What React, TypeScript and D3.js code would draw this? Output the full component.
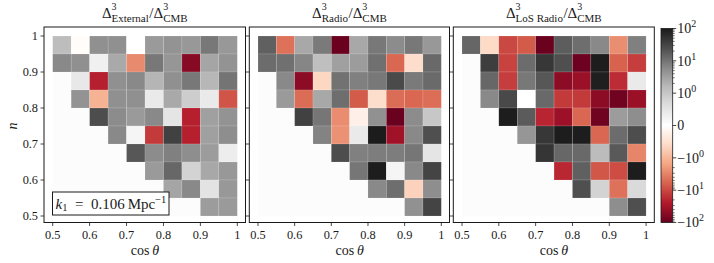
import React, { useEffect, useRef } from "react";
import * as d3 from "d3";

// rows run from the top (n = 0.95-1) down to n = 0.5-0.55,
// columns from cos(theta) = 0.5-0.55 up to 0.95-1; null = empty cell
const external: (number | null)[][] = [
  [1.4, -0.05, 5, 5, 0, 3.8, 4.5, 4, 9, 4],
  [6, 5, 0.3, 2.5, -2.7, 9, 4.2, -55, 2.8, 4.5],
  [null, 0.45, -22, 5, 6, 1.8, 5, 9, 1.7, 10],
  [null, 4.5, -1.1, 5, 5, 0.4, 2.5, 0.9, 0.4, -8],
  [null, null, 25, 5.5, 3.8, 6, 0.5, -22, 3.2, 4.5],
  [null, null, null, 6, 0.2, -13, 35, -22, 3.2, 5.2],
  [null, null, null, null, 20, 5.5, 7.5, 5.2, 3.6, 0.35],
  [null, null, null, null, null, 3.8, 13.5, 0.8, 2.6, 4],
  [null, null, null, null, null, null, 2.8, 6, 0.55, 4],
  [null, null, null, null, null, null, null, null, 3.6, 3.8],
];

const radio: (number | null)[][] = [
  [16, -4.5, 2.6, 8.5, -95, 2.6, 9, 5.5, 9, 4],
  [12, 11, 6.5, 1.3, 3.2, 3.6, 11, -5.5, -0.55, 13],
  [null, 6, -50, -0.65, 10.5, 7.5, 9, 27, 8.5, 12.5],
  [null, 3.8, -5, 2.6, 11.5, -7, -0.55, -5, -5.5, -4.8],
  [null, null, 35, 9.5, -2.6, -0.25, 4.8, -95, 5.5, 1],
  [null, null, null, 7, -2.3, 0.4, 95, -35, 6, 24],
  [null, null, null, null, 25, 7.5, 8, 8, 9.5, 0.5],
  [null, null, null, null, null, 9.5, 92, 0.2, 6, 32],
  [null, null, null, null, null, null, 6, 11.5, -0.7, 5.2],
  [null, null, null, null, null, null, null, null, 4.8, 32],
];

const losRadio: (number | null)[][] = [
  [14, -0.6, -10, -7, -95, 17, 11.5, 6, -2.5, 7.5],
  [null, 38, -11, 12, 45, 24, -90, 92, -6, -12],
  [null, 13.5, -12, 9, 20, -50, -40, 88, -17, 0.4],
  [null, 6, 28, 0, 13, -13, -13, -50, -85, -40],
  [null, null, 92, 18, -20, -38, -5.5, -85, 3.6, 5.2],
  [null, null, null, 4.2, 45, 92, 92, -5.5, 12, 25],
  [null, null, null, null, 48, 13.5, 13, 1.5, 19, -3],
  [null, null, null, null, null, -19, 16, -7.5, -9, 92],
  [null, null, null, null, null, null, 24, 0.8, -4.5, 0.7],
  [null, null, null, null, null, null, null, null, 5.2, 24],
];

const panelSubs = ["External", "Radio", "LoS Radio"];
const panelData = [external, radio, losRadio];

const binWidth = 0.05;
const xTicks = [0.5, 0.6, 0.7, 0.8, 0.9, 1];
const yTicks = [0.5, 0.6, 0.7, 0.8, 0.9, 1];
const cbarTicks = [100, 10, 1, 0, -1, -10, -100];
const cbarLabels = [
  ["10", "2"],
  ["10", "1"],
  ["10", "0"],
  ["0", ""],
  ["\u221210", "0"],
  ["\u221210", "1"],
  ["\u221210", "2"],
];

// matplotlib RdGy
const rdgy = [
  "#67001f", "#b2182b", "#d6604d", "#f4a582", "#fddbc7", "#ffffff",
  "#e0e0e0", "#bababa", "#878787", "#4d4d4d", "#1a1a1a",
];

const FONT = "'Liberation Serif', 'DejaVu Serif', serif";

// symlog with linthresh = 1, linscale = 1
function symlog(v: number): number {
  const a = Math.abs(v);
  const s = a <= 1 ? a : 1 + Math.log10(a);
  return Math.sign(v) * s;
}

const App: React.FC = () => {
  const svgRef = useRef<SVGSVGElement | null>(null);

  useEffect(() => {
    const svg = d3.select(svgRef.current);
    svg.selectAll("*").remove();

    const color = d3
      .scaleLinear<string>()
      .domain(d3.range(11).map((i) => -3 + i * 0.6))
      .range(rdgy)
      .interpolate(d3.interpolateRgb)
      .clamp(true);

    const top = 27;
    const bottom = 222.5;
    const panels = [
      { left: 44, right: 245.5 },
      { left: 249.3, right: 449.5 },
      { left: 453.3, right: 654.3 },
    ];

    const yScale = d3.scaleLinear().domain([0.5, 1]).range([216, 36]);

    panels.forEach((p, pi) => {
      const xScale = d3
        .scaleLinear()
        .domain([0.5, 1])
        .range([p.left + 8.7, p.right - 8.2]);
      const g = svg.append("g");

      // empty area of the grid
      g.append("rect")
        .attr("x", xScale(0.5))
        .attr("y", yScale(1))
        .attr("width", xScale(1) - xScale(0.5))
        .attr("height", yScale(0.5) - yScale(1))
        .attr("fill", "#fcfcfc");

      const cells: { r: number; c: number; v: number }[] = [];
      panelData[pi].forEach((row, r) =>
        row.forEach((v, c) => {
          if (v !== null) cells.push({ r, c, v });
        })
      );

      g.selectAll(".cell")
        .data(cells)
        .enter()
        .append("rect")
        .attr("class", "cell")
        .attr("x", (d) => xScale(0.5 + d.c * binWidth))
        .attr("y", (d) => yScale(1 - d.r * binWidth))
        .attr("width", xScale(0.5 + binWidth) - xScale(0.5))
        .attr("height", yScale(1 - binWidth) - yScale(1))
        .attr("fill", (d) => color(symlog(d.v)))
        .attr("stroke", "#ffffff")
        .attr("stroke-opacity", 0.25)
        .attr("stroke-width", 0.5);

      // frame
      g.append("rect")
        .attr("x", p.left)
        .attr("y", top)
        .attr("width", p.right - p.left)
        .attr("height", bottom - top)
        .attr("fill", "none")
        .attr("stroke", "#1a1a1a")
        .attr("stroke-width", 1);

      // x ticks
      xTicks.forEach((t) => {
        g.append("line")
          .attr("x1", xScale(t))
          .attr("x2", xScale(t))
          .attr("y1", bottom)
          .attr("y2", bottom + 3.5)
          .attr("stroke", "#1a1a1a")
          .attr("stroke-width", 0.8);
        g.append("text")
          .attr("x", xScale(t))
          .attr("y", 238.8)
          .attr("text-anchor", "middle")
          .attr("font-family", FONT)
          .attr("font-size", 12.3)
          .attr("fill", "#1a1a1a")
          .text(t === 1 ? "1" : d3.format(".1f")(t));
      });

      // y ticks
      yTicks.forEach((t) => {
        g.append("line")
          .attr("x1", p.left)
          .attr("x2", p.left - 3.5)
          .attr("y1", yScale(t))
          .attr("y2", yScale(t))
          .attr("stroke", "#1a1a1a")
          .attr("stroke-width", 0.8);
        if (pi === 0) {
          g.append("text")
            .attr("x", p.left - 6)
            .attr("y", yScale(t))
            .attr("dy", "0.35em")
            .attr("text-anchor", "end")
            .attr("font-family", FONT)
            .attr("font-size", 12.3)
            .attr("fill", "#1a1a1a")
            .text(t === 1 ? "1" : d3.format(".1f")(t));
        }
      });

      // x label
      const xl = g
        .append("text")
        .attr("x", (xScale(0.5) + xScale(1)) / 2)
        .attr("y", 255)
        .attr("text-anchor", "middle")
        .attr("font-family", FONT)
        .attr("font-size", 14)
        .attr("fill", "#1a1a1a");
      xl.append("tspan").text("cos\u2009");
      xl.append("tspan").attr("font-style", "italic").text("\u03b8");

      // title
      const tg = g.append("g");
      let cx = 0;
      const piece = (s: string, size: number, dy: number, italic = false) => {
        const el = tg
          .append("text")
          .attr("x", cx)
          .attr("y", dy)
          .attr("font-family", FONT)
          .attr("font-size", size)
          .attr("font-style", italic ? "italic" : "normal")
          .attr("fill", "#1a1a1a")
          .text(s);
        return (el.node() as SVGTextElement).getComputedTextLength();
      };
      const stack = (sup: string, sub: string) => {
        const w1 = piece(sup, 10, -8);
        const w2 = piece(sub, 11, 4);
        cx += Math.max(w1, w2) + 0.5;
      };
      cx += piece("\u0394", 15, 0);
      stack("3", panelSubs[pi]);
      cx += piece("/", 15, 0);
      cx += piece("\u0394", 15, 0);
      stack("3", "CMB");
      tg.attr(
        "transform",
        `translate(${(xScale(0.5) + xScale(1)) / 2 - cx / 2}, 18.3)`
      );

      if (pi === 0) {
        // y label
        g.append("text")
          .attr("transform", `translate(17, ${yScale(0.75)}) rotate(-90)`)
          .attr("text-anchor", "middle")
          .attr("font-family", FONT)
          .attr("font-size", 14)
          .attr("font-style", "italic")
          .attr("fill", "#1a1a1a")
          .text("n");

        // k1 box
        g.append("rect")
          .attr("x", 52.5)
          .attr("y", 192)
          .attr("width", 116.5)
          .attr("height", 23)
          .attr("fill", "#ffffff")
          .attr("stroke", "#1a1a1a")
          .attr("stroke-width", 1);
        const kt = g
          .append("text")
          .attr("x", 55.5)
          .attr("y", 208.5)
          .attr("font-family", FONT)
          .attr("font-size", 15)
          .attr("fill", "#1a1a1a");
        kt.append("tspan").attr("font-style", "italic").text("k");
        kt.append("tspan").attr("font-size", 10.5).attr("dy", 2.5).text("1");
        kt.append("tspan")
          .attr("dy", -2.5)
          .text("\u2002=\u20020.106\u2009Mpc");
        kt.append("tspan")
          .attr("font-size", 10.5)
          .attr("dy", -6)
          .text("\u22121");
      }
    });

    // colorbar
    const cb = { left: 661, right: 672.7, top: 28.5, bottom: 222.5 };
    const cbScale = d3.scaleLinear().domain([-3, 3]).range([cb.bottom, cb.top]);
    const defs = svg.append("defs");
    const grad = defs
      .append("linearGradient")
      .attr("id", "cbgrad")
      .attr("x1", 0)
      .attr("y1", 1)
      .attr("x2", 0)
      .attr("y2", 0);
    rdgy.forEach((c, i) => {
      grad.append("stop").attr("offset", i / 10).attr("stop-color", c);
    });
    svg
      .append("rect")
      .attr("x", cb.left)
      .attr("y", cb.top)
      .attr("width", cb.right - cb.left)
      .attr("height", cb.bottom - cb.top)
      .attr("fill", "url(#cbgrad)")
      .attr("stroke", "#1a1a1a")
      .attr("stroke-width", 0.8);

    const minor: number[] = [];
    [0, 1].forEach((d) =>
      d3.range(2, 10).forEach((k) => {
        const s = 1 + d + Math.log10(k);
        minor.push(s, -s);
      })
    );
    minor.forEach((s) => {
      svg
        .append("line")
        .attr("x1", cb.right)
        .attr("x2", cb.right + 2)
        .attr("y1", cbScale(s))
        .attr("y2", cbScale(s))
        .attr("stroke", "#1a1a1a")
        .attr("stroke-width", 0.6);
    });

    cbarTicks.forEach((v, i) => {
      const y = cbScale(symlog(v));
      svg
        .append("line")
        .attr("x1", cb.right)
        .attr("x2", cb.right + 3.5)
        .attr("y1", y)
        .attr("y2", y)
        .attr("stroke", "#1a1a1a")
        .attr("stroke-width", 0.8);
      const t = svg
        .append("text")
        .attr("x", cb.right + 4.5)
        .attr("y", y)
        .attr("dy", "0.35em")
        .attr("font-family", FONT)
        .attr("font-size", 14)
        .attr("fill", "#1a1a1a");
      t.append("tspan").text(cbarLabels[i][0]);
      if (cbarLabels[i][1]) {
        t.append("tspan")
          .attr("font-size", 10)
          .attr("dy", -6)
          .text(cbarLabels[i][1]);
      }
    });
  }, []);

  return (
    <div>
      <svg
        ref={svgRef}
        width={714}
        height={263}
        style={{ position: "absolute", left: 0, top: 0, background: "#ffffff" }}
      ></svg>
    </div>
  );
};

export default App;
